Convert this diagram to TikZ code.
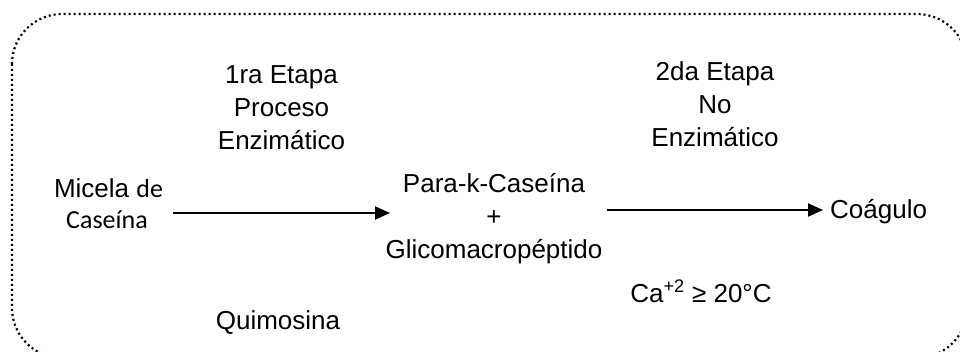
\documentclass[tikz,border=0pt]{standalone}
\usepackage{fontspec}
\setmainfont{Liberation Sans}
\newfontfamily\calfont{Carlito}
\usetikzlibrary{arrows.meta}
\begin{document}
\begin{tikzpicture}[x=1pt,y=-1pt,
  lbl/.style={inner sep=0pt,anchor=base,font=\fontsize{26}{31}\selectfont},
  flow/.style={line width=2pt,-{Triangle[length=15pt,width=13pt]}},
  frame/.style={line width=2.2pt,dash pattern=on 2pt off 3pt,rounded corners=50pt}]
\useasboundingbox (0,0) rectangle (960,352);
\clip (0,0) rectangle (960,352);
\draw[frame] (12,14) rectangle (967,358);
% stage 1 labels
\node[lbl] (e1a) at (281.5,84) {1ra Etapa};
\node[lbl] (e1b) at (281.5,117) {Proceso};
\node[lbl] (e1c) at (281.5,150) {Enzimático};
% stage 2 labels
\node[lbl] (e2a) at (715,81) {2da Etapa};
\node[lbl] (e2b) at (715,114) {No};
\node[lbl] (e2c) at (715,147) {Enzimático};
% start
\node[lbl] (m1) at (108.5,198) {Micela {\calfont de}};
\node[lbl,font=\calfont\fontsize{26}{31}\selectfont] (m2) at (107,229) {Caseína};
% middle
\node[lbl] (p1) at (494,193) {Para-k-Caseína};
\node[lbl] (p2) at (494,226) {+};
\node[lbl] (p3) at (494,259) {Glicomacropéptido};
% end
\node[lbl,anchor=base west] (c) at (830,219) {Coágulo};
% below
\node[lbl] (q) at (278,329) {Quimosina};
\node[lbl] (ca) at (701,302) {Ca\textsuperscript{+2} ≥ 20°C};
% arrows
\coordinate (a1s) at (173,213);
\coordinate (a1e) at (390,213);
\coordinate (a2s) at (607,210);
\coordinate (a2e) at (823,210);
\draw[flow] (a1s) -- (a1e);
\draw[flow] (a2s) -- (a2e);
\end{tikzpicture}
\end{document}
